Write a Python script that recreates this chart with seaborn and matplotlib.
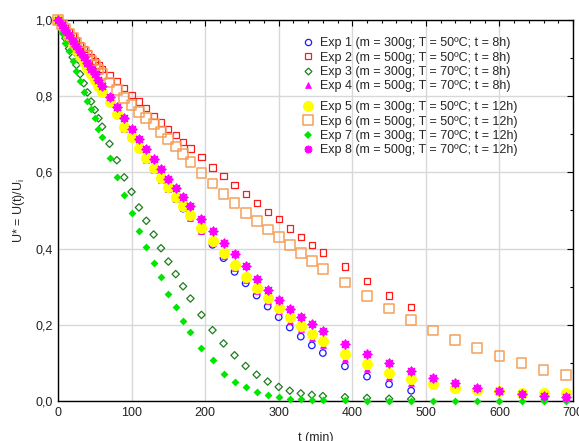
import numpy as np
import pandas as pd
import matplotlib
matplotlib.use("Agg")
import matplotlib.pyplot as plt
import seaborn as sns
from matplotlib.lines import Line2D
from matplotlib.markers import MarkerStyle
from matplotlib.ticker import MultipleLocator, FuncFormatter

sns.set_theme(style="white")
plt.rcParams["font.family"] = ["Liberation Sans", "DejaVu Sans"]

# Tiempos de muestreo (min)
t_8h = [0, 5, 10, 15, 20, 25, 30, 35, 40, 45, 50, 55, 60,
        70, 80, 90, 100, 110, 120, 130, 140, 150, 160, 170, 180,
        195, 210, 225, 240, 255, 270, 285, 300, 315, 330, 345, 360,
        390, 420, 450, 480]
t_12h = t_8h + [510, 540, 570, 600, 630, 660, 690]

# U* = U(t)/Ui
exp1 = [1.0, 0.981, 0.966, 0.950, 0.935, 0.919, 0.903, 0.888, 0.872, 0.856, 0.840, 0.825, 0.809,
        0.783, 0.750, 0.715, 0.689, 0.662, 0.634, 0.607, 0.582, 0.556, 0.530, 0.505, 0.481,
        0.446, 0.410, 0.375, 0.339, 0.309, 0.277, 0.248, 0.220, 0.193, 0.169, 0.146, 0.126,
        0.091, 0.064, 0.044, 0.027]
exp2 = [1.0, 0.989, 0.978, 0.968, 0.957, 0.946, 0.935, 0.924, 0.914, 0.903, 0.892, 0.881, 0.871,
        0.855, 0.840, 0.822, 0.803, 0.786, 0.768, 0.749, 0.731, 0.714, 0.698, 0.680, 0.663,
        0.640, 0.613, 0.591, 0.566, 0.543, 0.520, 0.497, 0.477, 0.453, 0.431, 0.410, 0.390,
        0.353, 0.314, 0.277, 0.246]
exp3 = [1.0, 0.975, 0.952, 0.925, 0.902, 0.882, 0.858, 0.834, 0.810, 0.786, 0.764, 0.742, 0.720,
        0.675, 0.632, 0.587, 0.549, 0.508, 0.473, 0.437, 0.401, 0.366, 0.333, 0.301, 0.269,
        0.226, 0.186, 0.151, 0.120, 0.092, 0.069, 0.051, 0.037, 0.027, 0.020, 0.016, 0.013,
        0.010, 0.008, 0.006, 0.005]
exp4 = [1.0, 0.983, 0.967, 0.951, 0.936, 0.920, 0.904, 0.889, 0.873, 0.857, 0.841, 0.826, 0.810,
        0.783, 0.750, 0.715, 0.689, 0.661, 0.633, 0.606, 0.581, 0.556, 0.531, 0.506, 0.481,
        0.447, 0.414, 0.380, 0.349, 0.318, 0.289, 0.262, 0.235, 0.211, 0.188, 0.166, 0.147,
        0.110, 0.085, 0.063, 0.048]
exp5 = [1.0, 0.984, 0.969, 0.953, 0.938, 0.922, 0.906, 0.891, 0.875, 0.859, 0.843, 0.828, 0.812,
        0.786, 0.753, 0.718, 0.692, 0.665, 0.637, 0.611, 0.586, 0.561, 0.536, 0.512, 0.487,
        0.453, 0.421, 0.388, 0.357, 0.326, 0.297, 0.270, 0.243, 0.220, 0.197, 0.176, 0.157,
        0.123, 0.096, 0.073, 0.057, 0.044, 0.033, 0.028, 0.025, 0.021, 0.020, 0.020]
exp6 = [1.0, 0.988, 0.976, 0.964, 0.952, 0.940, 0.928, 0.917, 0.905, 0.893, 0.881, 0.870, 0.858,
        0.836, 0.816, 0.796, 0.776, 0.758, 0.742, 0.727, 0.705, 0.687, 0.668, 0.648, 0.627,
        0.599, 0.571, 0.543, 0.519, 0.494, 0.473, 0.450, 0.430, 0.409, 0.389, 0.367, 0.346,
        0.311, 0.276, 0.243, 0.213, 0.185, 0.161, 0.139, 0.119, 0.100, 0.082, 0.069]
exp7 = [1.0, 0.965, 0.940, 0.918, 0.892, 0.867, 0.840, 0.812, 0.787, 0.766, 0.742, 0.714, 0.693,
        0.637, 0.589, 0.540, 0.493, 0.446, 0.403, 0.363, 0.325, 0.281, 0.247, 0.211, 0.181,
        0.140, 0.107, 0.072, 0.050, 0.036, 0.024, 0.016, 0.010, 0.006, 0.004, 0.003, 0.002,
        0.002, 0.001, 0.001, 0.001, 0.001, 0.001, 0.001, 0.001, 0.001, 0.001, 0.001]
exp8 = [1.0, 0.988, 0.975, 0.961, 0.946, 0.932, 0.917, 0.902, 0.887, 0.872, 0.857, 0.842, 0.828,
        0.799, 0.771, 0.742, 0.714, 0.687, 0.661, 0.634, 0.610, 0.583, 0.560, 0.536, 0.513,
        0.478, 0.447, 0.415, 0.386, 0.355, 0.320, 0.291, 0.265, 0.242, 0.221, 0.201, 0.184,
        0.149, 0.123, 0.099, 0.079, 0.061, 0.046, 0.035, 0.026, 0.019, 0.014, 0.010]

labels = [
    "Exp 1 (m = 300g; T = 50ºC; t = 8h)",
    "Exp 2 (m = 500g; T = 50ºC; t = 8h)",
    "Exp 3 (m = 300g; T = 70ºC; t = 8h)",
    "Exp 4 (m = 500g; T = 70ºC; t = 8h)",
    "Exp 5 (m = 300g; T = 50ºC; t = 12h)",
    "Exp 6 (m = 500g; T = 50ºC; t = 12h)",
    "Exp 7 (m = 300g; T = 70ºC; t = 12h)",
    "Exp 8 (m = 500g; T = 70ºC; t = 12h)",
]

star = MarkerStyle((8, 2, 0))

# (tiempos, valores, marcador, color, relleno, tamaño s, tamaño leyenda, ancho de línea)
series = [
    (t_8h, exp1, "o", "#1a1aff", False, 22, 4.5, 0.9),
    (t_8h, exp2, "s", "#ff1a1a", False, 20, 4.3, 0.9),
    (t_8h, exp3, "D", "#1e7d1e", False, 14, 3.5, 0.9),
    (t_8h, exp4, "^", "#ff00ff", True, 18, 4.5, 0.5),
    (t_12h, exp5, "o", "#ffff00", True, 64, 8, 0.0),
    (t_12h, exp6, "s", "#f5a05a", False, 50, 7.2, 1.1),
    (t_12h, exp7, "D", "#00e600", True, 16, 3.8, 0.0),
    (t_12h, exp8, star, "#ff00ff", None, 34, 5.4, 1.3),
]

fig = plt.figure(figsize=(5.79, 4.41), dpi=100)
ax = fig.add_axes([58 / 579, 40 / 441, 515 / 579, 381 / 441])

handles = []
for (t, u, mk, c, filled, s, ms, lw), lab in zip(series, labels):
    df = pd.DataFrame({"t": t, "u": u})
    if filled is None:
        # asterisco: marcador sin relleno, sólo líneas
        sns.scatterplot(data=df, x="t", y="u", marker=mk, s=s, color=c,
                        linewidth=lw, ax=ax, zorder=3, clip_on=False)
        h = Line2D([], [], ls="none", marker=mk, ms=ms, color=c, mew=lw)
    elif filled:
        sns.scatterplot(data=df, x="t", y="u", marker=mk, s=s, color=c,
                        edgecolor=c, linewidth=lw, ax=ax, zorder=3, clip_on=False)
        h = Line2D([], [], ls="none", marker=mk, ms=ms, mfc=c, mec=c, mew=lw)
    else:
        sns.scatterplot(data=df, x="t", y="u", marker=mk, s=s, facecolor="none",
                        edgecolor=c, linewidth=lw, ax=ax, zorder=3, clip_on=False)
        h = Line2D([], [], ls="none", marker=mk, ms=ms, mfc="none", mec=c, mew=lw)
    handles.append(h)

ax.set_xlim(0, 700)
ax.set_ylim(0, 1.0)
ax.xaxis.set_major_locator(MultipleLocator(100))
ax.xaxis.set_minor_locator(MultipleLocator(20))
ax.yaxis.set_major_locator(MultipleLocator(0.2))
ax.yaxis.set_minor_locator(MultipleLocator(0.1))
ax.yaxis.set_major_formatter(FuncFormatter(lambda v, p: f"{v:.1f}".replace(".", ",")))
ax.tick_params(which="both", direction="in", top=True, right=True, colors="black",
               labelsize=9, labelcolor="#222222")
ax.tick_params(which="major", length=4, width=0.8, pad=4)
ax.tick_params(which="minor", length=2.5, width=0.8)
ax.grid(True, which="major", color="#d8d8d8", linewidth=1.0)
ax.set_axisbelow(True)
for sp in ax.spines.values():
    sp.set_color("black")
    sp.set_linewidth(1.0)

ax.set_xlabel("t (min)", fontsize=9, labelpad=10)
ax.set_ylabel(r"U* = U(t)/U$_\mathregular{i}$", fontsize=9, labelpad=6)

leg_kw = dict(loc="upper left", bbox_transform=fig.transFigure, frameon=False,
              fontsize=9, handlelength=0.9, handletextpad=0.55, labelspacing=0.2,
              borderpad=0, borderaxespad=0)
leg1 = ax.legend(handles[:4], labels[:4], bbox_to_anchor=(302 / 579, 1 - 37 / 441), **leg_kw)
ax.add_artist(leg1)
ax.legend(handles[4:], labels[4:], bbox_to_anchor=(302 / 579, 1 - 101 / 441), **leg_kw)

fig.savefig("out.png", dpi=100)
